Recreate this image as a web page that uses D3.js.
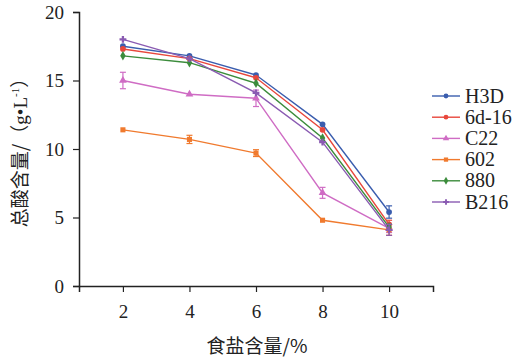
<!DOCTYPE html>
<html>
<head>
<meta charset="utf-8">
<script src="https://cdn.jsdelivr.net/npm/d3@7"></script>
<style>
  body { margin: 0; background: #fff; }
  svg text { font-family: "Liberation Serif", "Times New Roman", "DejaVu Serif", serif; fill: #222; }
  svg .cjk { font-family: "Noto Sans CJK SC", sans-serif; }
</style>
</head>
<body>
<svg width="518" height="361"></svg>
<script>
var salt = [2, 4, 6, 8, 10];
var seriesNames = ["H3D", "6d-16", "C22", "602", "880", "B216"];
var colors = ["#3a5dae", "#e8473c", "#cf6cc4", "#f07a2e", "#3c8c3c", "#8a5bb2"];
var H3D   = [17.5, 16.8, 15.4, 11.8, 5.4];
var d616  = [17.3, 16.6, 15.2, 11.4, 4.5];
var C22   = [15.0, 14.0, 13.7, 6.8, 4.2];
var s602  = [11.4, 10.7, 9.7, 4.8, 4.1];
var s880  = [16.8, 16.3, 14.8, 10.8, 4.3];
var B216  = [18.0, 16.6, 14.1, 10.5, 4.1];
var H3Derr  = [0.15, 0.1, 0.15, 0.15, 0.45];
var d616err = [0.15, 0.1, 0.1, 0.1, 0.3];
var C22err  = [0.6, 0.1, 0.6, 0.4, 0.3];
var s602err = [0.15, 0.3, 0.25, 0.05, 0.4];
var s880err = [0.1, 0.1, 0.1, 0.1, 0.2];
var B216err = [0.15, 0.1, 0.1, 0.1, 0.4];
var yTicks = [0, 5, 10, 15, 20];

var allVals = [H3D, d616, C22, s602, s880, B216];
var allErr = [H3Derr, d616err, C22err, s602err, s880err, B216err];
var symbols = [d3.symbolCircle, d3.symbolCircle, d3.symbolTriangle, d3.symbolSquare, d3.symbolDiamond, d3.symbolCross];

var svg = d3.select("svg");
var x = d3.scaleLinear().domain([0.68, 11.32]).range([79, 433]);
var y = d3.scaleLinear().domain([0, 20]).range([286, 12]);

function styleAxis(g) {
  g.attr("font-family", null);
  g.select(".domain").attr("stroke", "#222").attr("stroke-width", 1.5);
  g.selectAll("line").attr("stroke", "#222").attr("stroke-width", 1.2);
  g.selectAll("text").attr("font-size", 19).attr("fill", "#222");
}

// axes
svg.append("g")
    .attr("transform", "translate(0,286)")
    .call(d3.axisBottom(x).tickValues(salt).tickSize(6).tickPadding(13))
    .call(styleAxis);

svg.append("g")
    .attr("transform", "translate(79,0)")
    .call(d3.axisLeft(y).tickValues(yTicks).tickSize(6).tickPadding(9))
    .call(styleAxis);

// axis titles
svg.append("text")
    .attr("class", "cjk")
    .attr("x", 257).attr("y", 353)
    .attr("text-anchor", "middle")
    .attr("font-size", 19)
    .text("食盐含量/%");

var yt = svg.append("text")
    .attr("transform", "translate(27,148) rotate(-90)")
    .attr("text-anchor", "middle")
    .attr("font-size", 19);
yt.append("tspan").attr("class", "cjk").text("总酸含量/（");
yt.append("tspan").text("g•L");
yt.append("tspan").attr("font-size", 11).attr("dy", -8).text("-1");
yt.append("tspan").attr("class", "cjk").attr("dy", 8).text("）");

var line = d3.line()
    .x(function(d) { return x(d.x); })
    .y(function(d) { return y(d.v); });

seriesNames.forEach(function(name, i) {
  var pts = salt.map(function(s, j) { return {x: s, v: allVals[i][j], e: allErr[i][j]}; });
  var g = svg.append("g");
  g.append("path")
      .attr("d", line(pts))
      .attr("fill", "none")
      .attr("stroke", colors[i])
      .attr("stroke-width", 1.4);
  // error bars
  pts.forEach(function(p) {
    if (p.e < 0.2) return;
    g.append("line")
        .attr("x1", x(p.x)).attr("x2", x(p.x))
        .attr("y1", y(p.v - p.e)).attr("y2", y(p.v + p.e))
        .attr("stroke", colors[i]).attr("stroke-width", 1.2);
    [p.v - p.e, p.v + p.e].forEach(function(v) {
      g.append("line")
          .attr("x1", x(p.x) - 3).attr("x2", x(p.x) + 3)
          .attr("y1", y(v)).attr("y2", y(v))
          .attr("stroke", colors[i]).attr("stroke-width", 1.2);
    });
  });
  g.selectAll("path.pt")
      .data(pts)
      .enter().append("path")
      .attr("class", "pt")
      .attr("transform", function(d) { return "translate(" + x(d.x) + "," + y(d.v) + ")"; })
      .attr("d", d3.symbol().type(symbols[i]).size(26))
      .attr("fill", colors[i]);
});

// legend
var leg = svg.append("g").attr("transform", "translate(432,96)");
seriesNames.forEach(function(name, i) {
  var row = leg.append("g").attr("transform", "translate(0," + (i * 21.2) + ")");
  row.append("line")
      .attr("x1", 0).attr("x2", 28)
      .attr("stroke", colors[i]).attr("stroke-width", 1.4);
  row.append("path")
      .attr("transform", "translate(14,0)")
      .attr("d", d3.symbol().type(symbols[i]).size(18))
      .attr("fill", colors[i]);
  row.append("text")
      .attr("x", 33).attr("y", 6.5)
      .attr("font-size", 20)
      .text(name);
});
</script>
</body>
</html>
